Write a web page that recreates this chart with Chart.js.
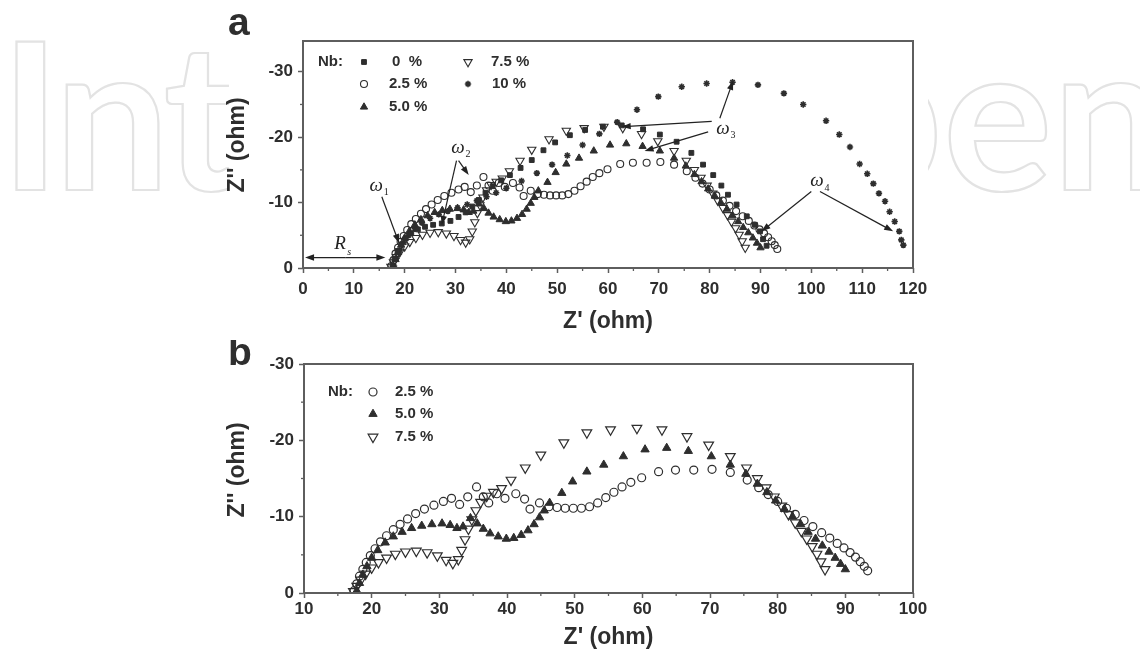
<!DOCTYPE html>
<html>
<head>
<meta charset="utf-8">
<title>Nb doped impedance spectra</title>
<script src="https://cdn.jsdelivr.net/npm/chart.js@4.4.1/dist/chart.umd.min.js"></script>
<style>
  html, body { margin: 0; padding: 0; background: #fff; }
  body { width: 1140px; height: 656px; position: relative; overflow: hidden; }
  .wm { position: absolute; top: 9px; font-family: Lato, "Open Sans", sans-serif; font-weight: 700;
        font-size: 205px; line-height: 1; color: transparent; -webkit-text-stroke: 2.2px #e3e3e3; white-space: nowrap; }
  #wmL { left: 0; letter-spacing: -5px; }
  #wmR { right: -28px; }
  #paper { position: absolute; left: 229px; top: 0; width: 699px; height: 656px; background: #fff; }
  canvas { position: absolute; left: 215px; }
  #chartA { top: 0; }
  #chartB { top: 340px; }
</style>
</head>
<body>
<div class="wm" id="wmL">Intech</div>
<div class="wm" id="wmR">Open</div>
<div id="paper"></div>
<canvas id="chartA" width="720" height="340"></canvas>
<canvas id="chartB" width="720" height="316"></canvas>
<script>
// Nyquist points: [Z' (ohm), Z'' (ohm)]
const nb0 = [[17.6,-0.3],[18.0,-1.4],[18.6,-2.6],[19.3,-3.6],[20.2,-4.5],[21.3,-5.3],[22.6,-5.9],[24.0,-6.3],
  [25.6,-6.6],[27.3,-6.8],[29.0,-7.2],[30.6,-7.8],[32.0,-8.5],[33.3,-9.4],[34.6,-10.4],[35.9,-11.5],[37.3,-12.5],
  [39.0,-13.4],[40.7,-14.2],[42.8,-15.3],[45.0,-16.5],[47.3,-18.0],[49.6,-19.2],[52.5,-20.3],[55.5,-21.1],
  [59.0,-21.6],[62.7,-21.8],[66.9,-21.2],[70.2,-20.4],[73.5,-19.3],[76.4,-17.6],[78.7,-15.8],[80.7,-14.2],
  [82.3,-12.6],[83.6,-11.2],[85.3,-9.7],[87.3,-7.9],[88.9,-6.6],[89.9,-5.6],[90.5,-4.4],[91.2,-3.4]];

const nb25 = [[17.4,-0.3],[17.8,-1.2],[18.2,-2.2],[18.7,-3.1],[19.2,-4.0],[19.8,-4.9],[20.5,-5.8],[21.3,-6.7],
  [22.2,-7.5],[23.2,-8.3],[24.2,-9.0],[25.3,-9.7],[26.5,-10.4],[27.8,-11.0],[29.2,-11.5],[30.6,-12.0],[31.8,-12.4],
  [33.0,-11.6],[34.2,-12.6],[35.5,-13.9],[36.5,-12.6],[37.3,-11.8],[38.5,-13.0],[39.7,-12.4],[41.3,-13.0],
  [42.6,-12.3],[43.4,-11.0],[44.8,-11.8],[46.2,-11.3],[47.4,-11.2],[48.6,-11.1],[49.8,-11.1],[51.0,-11.1],
  [52.2,-11.3],[53.4,-11.8],[54.6,-12.5],[55.8,-13.2],[57.0,-13.9],[58.3,-14.5],[59.9,-15.1],[62.4,-15.9],
  [64.9,-16.1],[67.6,-16.1],[70.3,-16.2],[73.0,-15.8],[75.5,-14.8],[77.2,-13.8],[78.6,-12.9],[80.0,-12.0],
  [81.3,-11.1],[82.6,-10.3],[83.9,-9.5],[85.2,-8.7],[86.5,-7.9],[87.7,-7.2],[88.8,-6.5],[89.8,-5.9],
  [90.7,-5.3],[91.5,-4.7],[92.2,-4.1],[92.8,-3.5],[93.3,-2.9]];

const nb50 = [[17.8,-0.3],[18.2,-1.3],[18.7,-2.4],[19.3,-3.5],[20.0,-4.6],[20.9,-5.6],[22.0,-6.6],[23.2,-7.4],
  [24.5,-8.0],[25.9,-8.5],[27.4,-8.8],[28.9,-9.0],[30.4,-9.1],[31.6,-8.9],[32.6,-8.5],[33.5,-8.7],[34.6,-9.8],
  [35.6,-9.1],[36.5,-8.4],[37.5,-7.8],[38.7,-7.4],[39.9,-7.1],[41.0,-7.2],[42.1,-7.6],[43.1,-8.2],[44.0,-9.0],
  [44.8,-9.9],[45.5,-10.8],[46.3,-11.8],[48.1,-13.1],[49.7,-14.6],[51.8,-15.9],[54.3,-16.8],[57.2,-17.9],
  [60.4,-18.8],[63.6,-19.0],[66.8,-18.6],[70.2,-17.9],[73.0,-16.8],[75.3,-15.6],[77.0,-14.3],[78.4,-13.2],
  [79.7,-12.1],[81.0,-11.0],[82.2,-10.0],[83.4,-9.0],[84.5,-8.0],[85.6,-7.1],[86.6,-6.2],[87.6,-5.4],
  [88.5,-4.6],[89.3,-3.8],[90.0,-3.1]];

const nb75 = [[17.3,-0.2],[17.8,-0.9],[18.4,-1.7],[19.1,-2.5],[20.0,-3.3],[21.0,-4.0],[22.2,-4.6],[23.5,-5.1],
  [25.0,-5.4],[26.6,-5.5],[28.2,-5.3],[29.7,-4.9],[31.0,-4.3],[32.0,-3.9],[32.8,-4.4],[33.3,-5.6],[33.8,-7.0],
  [34.3,-8.4],[34.8,-9.6],[35.4,-10.8],[36.1,-11.9],[37.0,-12.7],[38.0,-13.2],[39.2,-13.7],[40.6,-14.8],
  [42.7,-16.4],[45.0,-18.1],[48.4,-19.7],[51.8,-21.0],[55.3,-21.4],[59.2,-21.6],[62.9,-21.4],[66.6,-20.5],
  [69.8,-19.4],[73.0,-17.9],[75.4,-16.4],[77.0,-15.0],[78.3,-13.8],[79.5,-12.6],[80.6,-11.4],[81.6,-10.3],
  [82.6,-9.2],[83.5,-8.1],[84.3,-7.1],[85.1,-6.1],[85.8,-5.1],[86.4,-4.1],[87.0,-3.1]];

const nb10 = [[17.9,-0.3],[18.4,-1.5],[19.0,-2.7],[19.8,-3.9],[20.8,-5.0],[22.0,-6.0],[23.4,-6.9],[25.0,-7.6],
  [26.7,-8.2],[28.5,-8.7],[30.4,-9.2],[32.3,-9.7],[34.2,-10.3],[36.1,-10.9],[38.0,-11.5],[40.0,-12.2],
  [43.0,-13.3],[46.0,-14.5],[49.0,-15.8],[52.0,-17.2],[55.0,-18.8],[58.3,-20.5],[61.8,-22.3],[65.7,-24.2],
  [69.9,-26.2],[74.5,-27.7],[79.4,-28.2],[84.5,-28.4],[89.5,-28.0],[94.6,-26.7],[98.4,-25.0],[102.9,-22.5],
  [105.5,-20.4],[107.6,-18.5],[109.5,-15.9],[111.0,-14.4],[112.2,-12.9],[113.3,-11.4],[114.5,-10.2],
  [115.4,-8.6],[116.4,-7.1],[117.3,-5.6],[117.7,-4.3],[118.1,-3.5]];

const xTicksA = [0, 10, 20, 30, 40, 50, 60, 70, 80, 90, 100, 110, 120];
const yTicksA = [-30, -20, -10, 0];
const xTicksB = [10, 20, 30, 40, 50, 60, 70, 80, 90, 100];
const yTicksB = [-30, -20, -10, 0];

// panel a annotations, data units: [x1, y1, x2(head), y2(head)]
const arrowsA = [[15.5,-10.9,18.9,-3.8],[30.2,-16.4,27.3,-6.6],[30.6,-16.4,32.6,-14.2],
  [82.0,-22.9,84.6,-28.6],[80.4,-22.4,62.7,-21.6],[79.7,-20.8,67.2,-17.9],
  [100.0,-11.7,90.2,-5.6],[101.7,-11.7,116.1,-5.6]];
const omegaA = [[14.4,-12.6,'1'],[30.5,-18.4,'2'],[82.6,-21.3,'3'],[101.1,-13.3,'4']];
const rsArrowA = [0.4, -1.6, 16.2, -1.6];
const rsLabelA = [7.3, -3.6];

const FONT = '"Liberation Sans", Arial, sans-serif';
const SERIF = '"Liberation Serif", "DejaVu Serif", serif';
const INK = '#2e2e2e';

function arrow(ctx, x1, y1, x2, y2) {
  const a = Math.atan2(y2 - y1, x2 - x1), L = 9, W = 3.2;
  const c = Math.cos(a), s = Math.sin(a);
  ctx.beginPath();
  ctx.moveTo(x1, y1);
  ctx.lineTo(x2 - c * L * 0.7, y2 - s * L * 0.7);
  ctx.stroke();
  ctx.beginPath();
  ctx.moveTo(x2, y2);
  ctx.lineTo(x2 - c * L + s * W, y2 - s * L - c * W);
  ctx.lineTo(x2 - c * L - s * W, y2 - s * L + c * W);
  ctx.closePath();
  ctx.fill();
}

const decor = {
  id: 'decor',
  afterDraw(chart, args, o) {
    const { ctx, chartArea: a, scales: { x, y } } = chart;
    ctx.save();
    // frame
    ctx.strokeStyle = '#5e5e5e';
    ctx.lineWidth = 2;
    ctx.strokeRect(a.left, a.top, a.right - a.left, a.bottom - a.top);

    // minor ticks halfway between the labelled ones
    ctx.lineWidth = 1.3;
    const minors = (ticks, lo, hi) => {
      const st = ticks[1] - ticks[0], out = [];
      for (let v = ticks[0] - st / 2; v <= hi; v += st) if (v >= lo) out.push(v);
      return out;
    };
    minors(o.xTicks, x.min, x.max).forEach(v => {
      const px = x.getPixelForValue(v);
      ctx.beginPath(); ctx.moveTo(px, a.bottom); ctx.lineTo(px, a.bottom + 3); ctx.stroke();
    });
    minors(o.yTicks, y.min, y.max).forEach(v => {
      const py = y.getPixelForValue(v);
      ctx.beginPath(); ctx.moveTo(a.left - 3, py); ctx.lineTo(a.left, py); ctx.stroke();
    });

    // axis titles and panel letter
    ctx.fillStyle = INK;
    ctx.font = 'bold 23px ' + FONT;
    ctx.textAlign = 'center';
    ctx.textBaseline = 'middle';
    ctx.fillText("Z' (ohm)", (a.left + a.right) / 2, o.xTitleY);
    ctx.save();
    ctx.translate(o.yTitleX, o.yTitleY);
    ctx.rotate(-Math.PI / 2);
    ctx.fillText("Z'' (ohm)", 0, 0);
    ctx.restore();
    ctx.font = 'bold 39px ' + FONT;
    ctx.textAlign = 'left';
    ctx.textBaseline = 'alphabetic';
    ctx.fillText(o.letter, o.letterX, o.letterY);

    // legend
    ctx.font = 'bold 15px ' + FONT;
    ctx.textBaseline = 'middle';
    ctx.fillText('Nb:', a.left + o.legend.nb[0], a.top + o.legend.nb[1]);
    o.legend.items.forEach(it => {
      const ds = chart.data.datasets[it.i];
      ctx.save();
      ctx.fillStyle = ds.pointBackgroundColor;
      ctx.strokeStyle = ds.pointBorderColor;
      ctx.lineWidth = ds.pointBorderWidth;
      Chart.helpers.drawPoint(ctx, {
        pointStyle: ds.pointStyle, radius: ds.pointRadius,
        rotation: ds.pointRotation, borderWidth: ds.pointBorderWidth
      }, a.left + it.mx, a.top + it.y);
      ctx.restore();
      ctx.fillText(it.text, a.left + it.tx, a.top + it.y);
    });

    // arrows and frequency labels
    ctx.strokeStyle = '#222';
    ctx.fillStyle = '#222';
    ctx.lineWidth = 1.2;
    (o.arrows || []).forEach(([x1, y1, x2, y2]) => {
      arrow(ctx, x.getPixelForValue(x1), y.getPixelForValue(y1), x.getPixelForValue(x2), y.getPixelForValue(y2));
    });
    if (o.rsArrow) {
      const [x1, y1, x2, y2] = o.rsArrow;
      const p1 = [x.getPixelForValue(x1), y.getPixelForValue(y1)];
      const p2 = [x.getPixelForValue(x2), y.getPixelForValue(y2)];
      const mx = (p1[0] + p2[0]) / 2;
      arrow(ctx, mx, p1[1], p1[0], p1[1]);
      arrow(ctx, mx, p2[1], p2[0], p2[1]);
      const lx = x.getPixelForValue(o.rsLabel[0]), ly = y.getPixelForValue(o.rsLabel[1]);
      ctx.textAlign = 'center';
      ctx.font = 'italic 19px ' + SERIF;
      ctx.fillText('R', lx, ly);
      ctx.font = 'italic 10px ' + SERIF;
      ctx.fillText('s', lx + 9, ly + 8);
    }
    (o.omegas || []).forEach(([vx, vy, sub]) => {
      const px = x.getPixelForValue(vx), py = y.getPixelForValue(vy);
      ctx.textAlign = 'center';
      ctx.font = 'italic 19px ' + SERIF;
      ctx.fillText('\u03c9', px, py);
      ctx.font = '10px ' + SERIF;
      ctx.fillText(sub, px + 10, py + 7);
    });
    ctx.restore();
  }
};

function makeChart(id, p) {
  return new Chart(document.getElementById(id), {
    type: 'scatter',
    data: {
      datasets: p.series.map(s => ({
        label: s.label,
        data: s.data.map(([vx, vy]) => ({ x: vx, y: vy })),
        showLine: false,
        pointStyle: s.shape,
        pointRadius: s.r,
        pointRotation: s.rot || 0,
        pointBackgroundColor: s.open ? 'rgba(255,255,255,0)' : INK,
        pointBorderColor: INK,
        pointBorderWidth: s.bw
      }))
    },
    options: {
      responsive: false,
      animation: false,
      events: [],
      layout: { padding: { top: p.padTop, right: p.padRight, left: 0, bottom: 0 } },
      plugins: { legend: { display: false }, tooltip: { enabled: false }, decor: p.decor },
      scales: {
        x: {
          type: 'linear', min: p.xMin, max: p.xMax,
          afterBuildTicks: s => { s.ticks = p.decor.xTicks.map(v => ({ value: v })); },
          afterFit: s => { s.height = p.xHeight; },
          grid: { drawOnChartArea: false, tickLength: 5, tickColor: '#5e5e5e', tickWidth: 1.5 },
          border: { display: false },
          ticks: { padding: p.xPad, color: INK, autoSkip: false, maxRotation: 0,
                   font: { family: FONT, size: 17, weight: 'bold' }, callback: v => String(v) }
        },
        y: {
          type: 'linear', reverse: true, min: p.yMin, max: 0,
          afterBuildTicks: s => { s.ticks = p.decor.yTicks.map(v => ({ value: v })); },
          afterFit: s => { s.width = p.yWidth; },
          grid: { drawOnChartArea: false, tickLength: 5, tickColor: '#5e5e5e', tickWidth: 1.5 },
          border: { display: false },
          ticks: { padding: 5, color: INK, autoSkip: false,
                   font: { family: FONT, size: 17, weight: 'bold' }, callback: v => String(v) }
        }
      }
    },
    plugins: [decor]
  });
}

makeChart('chartA', {
  xMin: 0, xMax: 120, yMin: -34.7,
  padTop: 41, padRight: 22, yWidth: 88, xHeight: 72, xPad: 6,
  series: [
    { label: '0 %', data: nb0, shape: 'rect', r: 3.4, bw: 1 },
    { label: '2.5 %', data: nb25, shape: 'circle', r: 3.5, bw: 1.1, open: true },
    { label: '5.0 %', data: nb50, shape: 'triangle', r: 4.2, bw: 1 },
    { label: '7.5 %', data: nb75, shape: 'triangle', rot: 180, r: 4.8, bw: 1.1, open: true },
    { label: '10 %', data: nb10, shape: 'star', r: 3.2, bw: 1.6 }
  ],
  decor: {
    xTicks: xTicksA, yTicks: yTicksA,
    letter: 'a', letterX: 13, letterY: 35,
    xTitleY: 322, yTitleX: 23, yTitleY: 145,
    legend: { nb: [15, 21], items: [
      { i: 0, mx: 61, tx: 89, y: 21, text: '0  %' },
      { i: 1, mx: 61, tx: 86, y: 43, text: '2.5 %' },
      { i: 2, mx: 61, tx: 86, y: 66, text: '5.0 %' },
      { i: 3, mx: 165, tx: 188, y: 21, text: '7.5 %' },
      { i: 4, mx: 165, tx: 189, y: 43, text: '10 %' }
    ] },
    arrows: arrowsA, omegas: omegaA, rsArrow: rsArrowA, rsLabel: rsLabelA
  }
});

makeChart('chartB', {
  xMin: 10, xMax: 100, yMin: -30,
  padTop: 24, padRight: 22, yWidth: 89, xHeight: 63, xPad: 1,
  series: [
    { label: '2.5 %', data: nb25, shape: 'circle', r: 4, bw: 1.2, open: true },
    { label: '5.0 %', data: nb50, shape: 'triangle', r: 4.8, bw: 1 },
    { label: '7.5 %', data: nb75, shape: 'triangle', rot: 180, r: 5.6, bw: 1.2, open: true }
  ],
  decor: {
    xTicks: xTicksB, yTicks: yTicksB,
    letter: 'b', letterX: 13, letterY: 25,
    xTitleY: 298, yTitleX: 23, yTitleY: 130,
    legend: { nb: [24, 28], items: [
      { i: 0, mx: 69, tx: 91, y: 28, text: '2.5 %' },
      { i: 1, mx: 69, tx: 91, y: 50, text: '5.0 %' },
      { i: 2, mx: 69, tx: 91, y: 73, text: '7.5 %' }
    ] }
  }
});
</script>
</body>
</html>
